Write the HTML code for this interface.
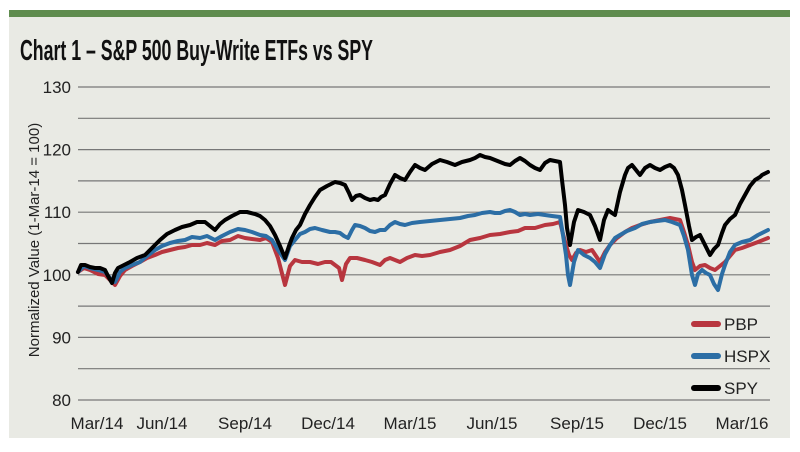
<!DOCTYPE html>
<html><head><meta charset="utf-8"><style>
body{margin:0;background:#fff;width:800px;height:447px;overflow:hidden}
</style></head><body>
<svg width="800" height="447" xmlns="http://www.w3.org/2000/svg" font-family="'Liberation Sans Narrow','Liberation Sans',sans-serif">
<rect x="9" y="10" width="781" height="428" fill="#e9eae4"/>
<rect x="9" y="10" width="781" height="7" fill="#5f8c4e"/>
<text x="20" y="60" font-size="29" font-weight="bold" fill="#111" textLength="353" lengthAdjust="spacingAndGlyphs">Chart 1 – S&amp;P 500 Buy-Write ETFs vs SPY</text>
<g stroke="#777" stroke-width="1.2">
<line x1="78" y1="87" x2="770" y2="87"/><line x1="78" y1="118.3" x2="770" y2="118.3"/>
<line x1="78" y1="149.6" x2="770" y2="149.6"/><line x1="78" y1="180.9" x2="770" y2="180.9"/>
<line x1="78" y1="212.2" x2="770" y2="212.2"/><line x1="78" y1="243.5" x2="770" y2="243.5"/>
<line x1="78" y1="274.8" x2="770" y2="274.8"/><line x1="78" y1="306.1" x2="770" y2="306.1"/>
<line x1="78" y1="337.4" x2="770" y2="337.4"/><line x1="78" y1="368.7" x2="770" y2="368.7"/>
<line x1="78" y1="400" x2="770" y2="400"/>
</g>
<g fill="#222" font-size="17" text-anchor="end">
<text x="71" y="93">130</text><text x="71" y="155.6">120</text><text x="71" y="218.2">110</text>
<text x="71" y="280.8">100</text><text x="71" y="343.4">90</text><text x="71" y="406">80</text>
</g>
<text transform="translate(39,240) rotate(-90)" font-size="15" fill="#222" text-anchor="middle">Normalized Value (1-Mar-14 = 100)</text>
<g fill="#222" font-size="17" text-anchor="middle">
<text x="97" y="429">Mar/14</text><text x="162" y="429">Jun/14</text><text x="245" y="429">Sep/14</text>
<text x="328" y="429">Dec/14</text><text x="410" y="429">Mar/15</text><text x="492" y="429">Jun/15</text>
<text x="577" y="429">Sep/15</text><text x="660" y="429">Dec/15</text><text x="742" y="429">Mar/16</text>
</g>
<g fill="none" stroke-width="4" stroke-linejoin="round" stroke-linecap="round">
<polyline stroke="#b8363f" points="78,272 84,268 90,270 98,274 105,275 110,280 115,285 120,276 125,270 132,266 140,262 147,258 155,255 162,252 170,250 178,248 185,247 192,245 200,245 207,243 215,245 222,241 230,240 238,236 245,238 252,239 260,240 266,238 272,242 278,258 285,285 290,266 295,260 302,262 310,262 318,264 325,262 331,262 335,265 339,268 342,280 346,264 350,258 357,258 365,260 372,262 380,265 385,260 390,258 395,260 400,262 407,258 415,255 422,256 430,255 440,252 450,250 460,246 470,240 480,238 490,235 500,234 510,232 518,231 525,228 535,228 545,225 553,224 560,222 563,234 566,245 569,255 572,260 576,253 580,250 586,252 592,250 596,256 600,262 605,252 610,245 617,238 625,232 632,228 640,225 650,222 660,220 670,218 680,220 684,232 688,245 692,262 695,270 700,266 705,265 710,268 715,270 720,266 725,262 730,256 735,250 742,248 750,245 758,242 768,238"/>
<polyline stroke="#2c6ea5" points="78,272 84,266 90,268 98,270 105,272 110,278 115,282 120,272 125,268 132,265 140,262 147,256 155,250 162,246 170,243 178,241 185,240 192,237 200,238 207,236 215,240 222,236 230,232 238,229 245,230 252,232 260,235 266,236 272,240 278,250 285,260 290,246 295,240 300,234 305,232 310,229 315,228 322,230 330,232 335,232 340,233 344,236 348,238 352,230 355,225 360,226 365,228 370,231 375,232 380,230 385,230 390,225 395,222 400,224 405,225 412,223 420,222 430,221 440,220 450,219 460,218 468,216 475,215 482,213 490,212 495,213 500,213 505,211 510,210 515,212 520,215 525,214 530,215 538,214 545,215 552,216 560,217 563,235 566,255 568,275 570,285 574,262 578,250 584,255 590,258 595,262 600,268 605,254 610,245 615,238 620,235 627,231 635,228 642,224 650,222 657,221 665,220 672,222 680,225 684,236 688,250 692,275 695,285 698,274 702,270 706,273 710,275 714,284 718,290 722,274 725,265 730,252 735,245 742,242 750,240 758,235 768,230"/>
<polyline stroke="#000" points="78,272 81,265 85,265 90,267 95,268 100,268 105,270 108,276 112,283 115,273 118,268 124,265 130,262 137,258 145,255 152,248 160,240 167,234 175,230 182,227 190,225 197,222 205,222 210,226 215,230 220,224 225,220 232,216 240,212 247,212 255,214 260,216 265,220 270,226 275,235 280,246 285,258 289,246 292,238 296,230 300,225 305,214 310,205 315,197 320,190 327,186 335,182 340,183 345,185 349,193 352,200 356,196 360,195 365,198 370,200 374,199 378,200 381,197 385,195 390,184 395,175 400,178 405,180 410,172 415,165 420,168 425,170 432,164 440,160 447,162 455,165 462,162 470,160 475,158 480,155 485,157 490,158 495,160 500,162 505,164 510,165 515,161 520,158 525,161 530,165 535,168 540,170 545,163 550,160 555,161 560,162 562,180 565,205 567,228 570,245 574,222 578,210 584,212 590,215 595,226 600,240 604,220 608,210 612,213 615,215 620,192 625,175 628,168 632,165 636,170 640,175 645,168 650,165 655,168 660,170 665,167 670,165 674,168 678,175 682,190 685,205 689,226 692,240 696,237 700,235 705,245 710,255 714,249 718,245 722,233 725,225 730,219 735,215 740,204 745,195 750,186 755,180 760,177 762,175 768,172"/>
</g>
<g stroke-width="6" stroke-linecap="round">
<line x1="694" y1="324" x2="718" y2="324" stroke="#b8363f"/>
<line x1="694" y1="356" x2="718" y2="356" stroke="#2c6ea5"/>
<line x1="694" y1="388" x2="718" y2="388" stroke="#000"/>
</g>
<g fill="#222" font-size="17">
<text x="724" y="330">PBP</text><text x="724" y="362">HSPX</text><text x="724" y="394">SPY</text>
</g>
</svg>
</body></html>
